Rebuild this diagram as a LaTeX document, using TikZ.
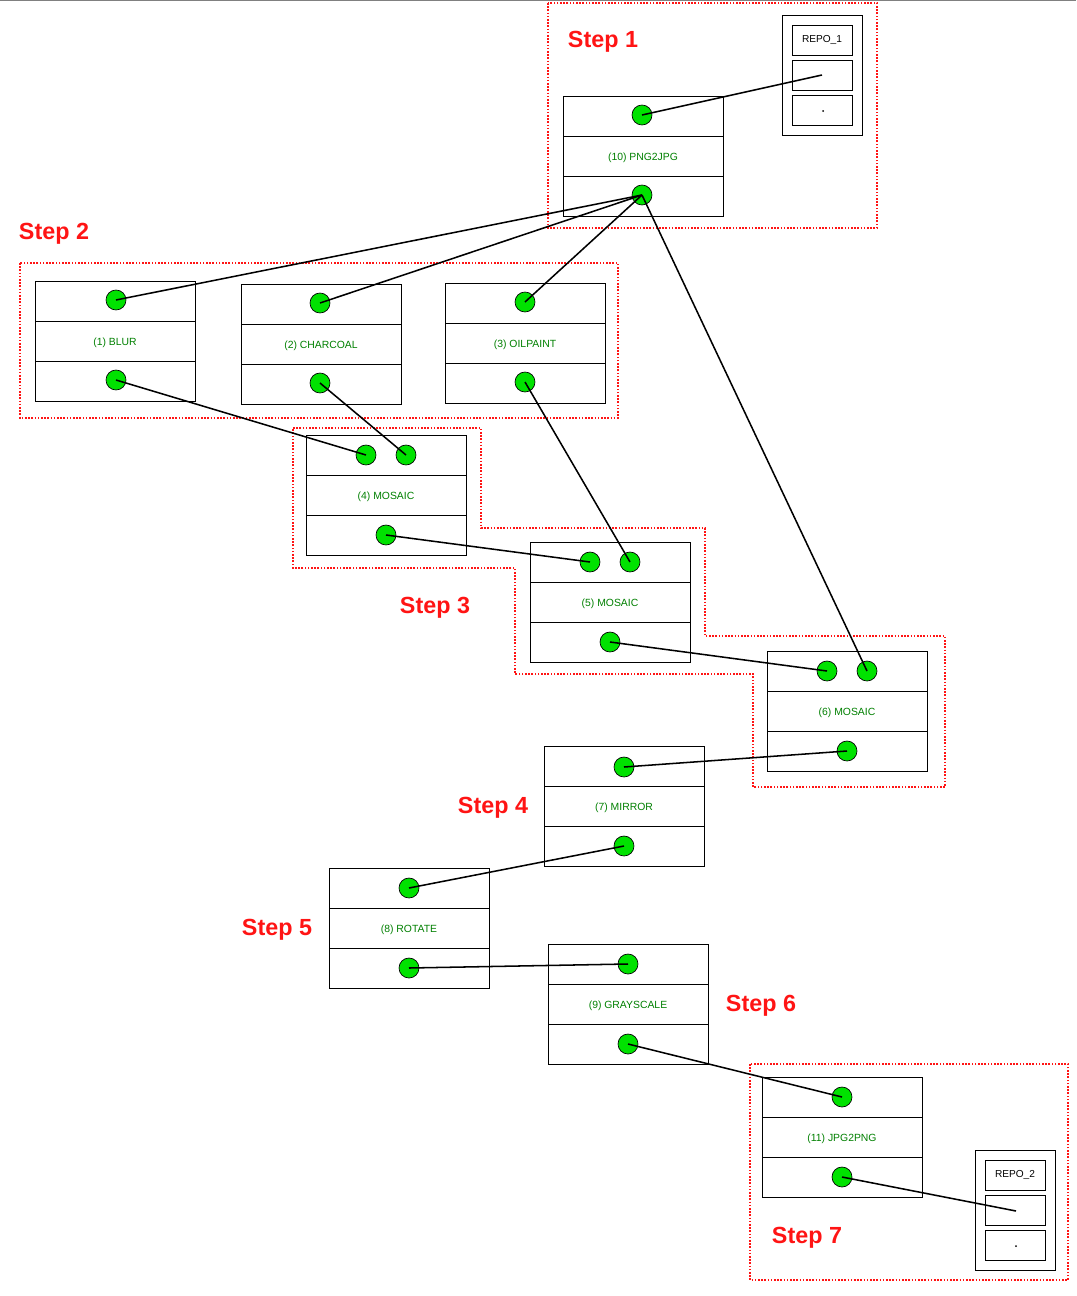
\documentclass[tikz,border=0pt]{standalone}
\usepackage{fontspec}
\setmainfont{Liberation Sans}
\usetikzlibrary{calc}
\definecolor{portgreen}{RGB}{0,226,0}
\definecolor{labgreen}{RGB}{0,128,0}
\definecolor{stepred}{RGB}{255,20,20}
\newcommand\opbox[4]{%
  \node[rowbox] (#1t) at (#2,#3+20) {};
  \node[rowbox] (#1m) at (#2,#3+60) {};
  \node[rowbox] (#1b) at (#2,#3+100) {};
  \node[font=\fontsize{7.8}{8}\selectfont,text=labgreen,inner sep=0pt] (#1lab) at (#2,#3+61.5) {#4};
}
\begin{document}
\begin{tikzpicture}[x=0.75pt,y=-0.75pt,
  rowbox/.style={draw,fill=white,minimum width=120pt,minimum height=30pt,inner sep=0pt,line width=0.7pt},
  port/.style={circle,draw,fill=portgreen,minimum size=15pt,inner sep=0pt,line width=0.5pt},
  wire/.style={line width=1.15pt,black},
  region/.style={draw=stepred,line width=1.3pt,dash pattern=on 1.2pt off 1.2pt},
  steplabel/.style={text=stepred,font=\fontsize{17.5}{18}\selectfont\bfseries,inner sep=0pt},
  repobox/.style={draw,fill=white,minimum width=60pt,minimum height=90pt,inner sep=0pt,line width=0.7pt},
  slot/.style={draw,minimum width=45pt,minimum height=22.5pt,inner sep=0pt,line width=0.7pt,font=\fontsize{7.6}{8}\selectfont},
  dotmark/.style={circle,fill=black,inner sep=0pt,minimum size=1.5pt}
]
\useasboundingbox (0,0) rectangle (1076,1296);
\draw[gray,line width=0.8pt] (0,0.5) -- (1076,0.5);

% step regions
\draw[region] (548,3) rectangle (877,228);
\draw[region] (20,263) rectangle (618,418);
\draw[region] (293,428) -- (481,428) -- (481,528) -- (705,528) -- (705,636) -- (945,636) -- (945,787) -- (753,787) -- (753,674) -- (515,674) -- (515,568) -- (293,568) -- cycle;
\draw[region] (750,1064) rectangle (1068,1280);

% step labels
\node[steplabel] (s1) at (603,42) {Step 1};
\node[steplabel] (s2) at (54,234) {Step 2};
\node[steplabel] (s3) at (435,608) {Step 3};
\node[steplabel] (s4) at (493,808) {Step 4};
\node[steplabel] (s5) at (277,930) {Step 5};
\node[steplabel] (s6) at (761,1006) {Step 6};
\node[steplabel] (s7) at (807,1238) {Step 7};

% repositories
\node[repobox] (repoA) at (822,75) {};
\node[slot] (repoAname) at (822,40) {REPO\_1};
\node[slot] (repoAin) at (822,75) {};
\node[slot] (repoAout) at (822,110) {};
\node[dotmark] (repoAdot) at (823,111) {};
\coordinate (repoAend) at (822,75);

\node[repobox] (repoB) at (1015,1210) {};
\node[slot] (repoBname) at (1015,1175) {REPO\_2};
\node[slot] (repoBin) at (1015,1210) {};
\node[slot] (repoBout) at (1015,1245) {};
\node[dotmark] (repoBdot) at (1016,1246) {};
\coordinate (repoBend) at (1016,1211);

% operation boxes
\opbox{b10}{643}{96}{(10) PNG2JPG}
\opbox{b1}{115}{281}{(1) BLUR}
\opbox{b2}{321}{284}{(2) CHARCOAL}
\opbox{b3}{525}{283}{(3) OILPAINT}
\opbox{b4}{386}{435}{(4) MOSAIC}
\opbox{b5}{610}{542}{(5) MOSAIC}
\opbox{b6}{847}{651}{(6) MOSAIC}
\opbox{b7}{624}{746}{(7) MIRROR}
\opbox{b8}{409}{868}{(8) ROTATE}
\opbox{b9}{628}{944}{(9) GRAYSCALE}
\opbox{b11}{842}{1077}{(11) JPG2PNG}

% ports
\node[port] (p10i) at (642,115) {};
\node[port] (p10o) at (642,195) {};
\node[port] (p1i) at (116,300) {};
\node[port] (p1o) at (116,380) {};
\node[port] (p2i) at (320,303) {};
\node[port] (p2o) at (320,383) {};
\node[port] (p3i) at (525,302) {};
\node[port] (p3o) at (525,382) {};
\node[port] (p4a) at (366,455) {};
\node[port] (p4b) at (406,455) {};
\node[port] (p4o) at (386,535) {};
\node[port] (p5a) at (590,562) {};
\node[port] (p5b) at (630,562) {};
\node[port] (p5o) at (610,642) {};
\node[port] (p6a) at (827,671) {};
\node[port] (p6b) at (867,671) {};
\node[port] (p6o) at (847,751) {};
\node[port] (p7i) at (624,767) {};
\node[port] (p7o) at (624,846) {};
\node[port] (p8i) at (409,888) {};
\node[port] (p8o) at (409,968) {};
\node[port] (p9i) at (628,964) {};
\node[port] (p9o) at (628,1044) {};
\node[port] (p11i) at (842,1097) {};
\node[port] (p11o) at (842,1177) {};

% connectors
\draw[wire] (repoAend) -- (p10i.center);
\draw[wire] (p10o.center) -- (p1i.center);
\draw[wire] (p10o.center) -- (p2i.center);
\draw[wire] (p10o.center) -- (p3i.center);
\draw[wire] (p10o.center) -- (p6b.center);
\draw[wire] (p1o.center) -- (p4a.center);
\draw[wire] (p2o.center) -- (p4b.center);
\draw[wire] (p3o.center) -- (p5b.center);
\draw[wire] (p4o.center) -- (p5a.center);
\draw[wire] (p5o.center) -- (p6a.center);
\draw[wire] (p6o.center) -- (p7i.center);
\draw[wire] (p7o.center) -- (p8i.center);
\draw[wire] (p8o.center) -- (p9i.center);
\draw[wire] (p9o.center) -- (p11i.center);
\draw[wire] (p11o.center) -- (repoBend);
\end{tikzpicture}
\end{document}
